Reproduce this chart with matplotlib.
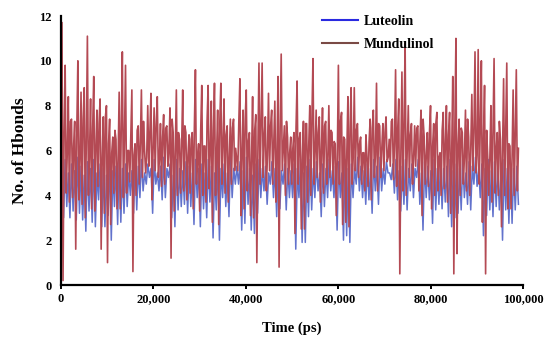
import numpy as np
import matplotlib
matplotlib.use("Agg")
import matplotlib.pyplot as plt
from matplotlib.ticker import FuncFormatter

# values, one row per ~17,000 ps stretch
mund_peaks = [
    11.7, 9.8, 8.4, 7.4, 7.3, 10.0, 8.6, 8.8, 11.1, 8.3, 9.3, 7.8, 8.3, 7.5, 8.0, 7.4, 6.6, 6.5, 8.6, 10.4, 9.8, 6.0,
    8.7, 6.3, 7.1, 8.7, 6.0, 8.0, 8.55, 7.9, 8.4, 7.2, 7.6, 7.1, 7.9, 6.8, 8.7, 6.5, 8.7, 6.8, 6.7, 6.8, 9.6, 6.3, 8.9, 6.2, 8.9,
    8.2, 9.0, 7.8, 9.0, 8.3, 7.1, 7.4, 7.4, 5.6, 9.2, 7.8, 8.7, 6.8, 8.4, 7.6, 9.9, 9.9, 7.5, 8.55, 7.8, 8.2, 9.3, 10.3, 7.1, 6.6,
    6.6, 6.8, 9.1, 6.8, 7.3, 7.2, 8.0, 10.1, 7.8, 7.5, 7.9, 7.3, 8.0, 6.8, 6.3, 9.8, 7.7, 6.5, 8.4, 8.8, 8.8, 7.2, 6.6, 5.9,
    5.7, 7.4, 7.8, 9.0, 7.1, 7.2, 7.5, 6.5, 7.4, 9.6, 8.3, 9.5, 10.8, 8.0, 7.2, 7.1, 7.1, 7.8, 6.6, 6.8, 8.0, 7.2, 7.7, 5.9, 7.7,
    8.0, 7.7, 9.3, 11.0, 7.4, 6.8, 7.8, 6.6, 8.5, 10.4, 10.5, 10.0, 8.9, 5.7, 8.0, 10.1, 6.8, 6.5, 9.2, 9.9, 6.2, 8.7, 9.6,
]
mund_troughs = [
    0.2, 4.1, 3.7, 3.9, 1.6, 3.8, 3.6, 3.0, 4.0, 3.4, 3.3, 4.4, 1.6, 3.2, 1.0, 2.7, 4.1, 3.4, 3.4, 3.9, 4.1, 4.6,
    0.6, 4.0, 4.5, 4.8, 5.0, 5.3, 3.8, 5.1, 4.8, 4.4, 4.5, 5.3, 1.2, 3.3, 4.0, 4.1, 4.2, 3.8, 4.1, 3.4, 4.5, 3.3, 4.0, 3.7, 4.3,
    2.8, 4.0, 2.7, 4.5, 4.1, 3.7, 4.5, 5.1, 5.1, 3.1, 3.4, 4.2, 3.1, 3.0, 1.0, 4.5, 4.8, 4.2, 5.1, 4.5, 3.7, 0.8, 5.1, 4.0, 4.5,
    4.5, 2.3, 4.5, 2.5, 2.5, 3.7, 4.0, 4.5, 4.8, 3.7, 4.1, 4.5, 4.8, 4.5, 3.1, 4.5, 2.7, 2.8, 2.6, 4.5, 5.1, 4.8, 4.5, 4.2,
    4.4, 3.8, 4.8, 4.2, 4.8, 5.1, 5.5, 5.3, 4.7, 4.4, 0.5, 4.2, 4.0, 4.8, 4.5, 5.3, 4.2, 3.1, 4.5, 4.4, 3.4, 4.0, 4.2, 4.0, 4.3,
    3.7, 3.2, 0.5, 1.4, 4.0, 4.5, 4.2, 4.0, 5.1, 5.0, 4.5, 2.8, 0.5, 4.0, 3.7, 4.1, 4.0, 2.6, 4.0, 3.4, 3.4, 4.0, 4.2,
]
# the smaller swings that fill the band between the spikes
mund_band = [
    6.8, 5.9, 7.3, 6.2, 6.9, 5.6, 7.4, 6.4, 5.8, 7.0, 6.1, 7.2, 5.7, 7.5, 6.3, 5.9, 6.9, 5.6, 7.1, 6.5, 6.0, 6.6,
    5.8, 6.9, 6.3, 7.3, 5.7, 6.8, 6.0, 7.2, 5.6, 6.6, 7.0, 6.1, 7.4, 5.9, 6.8, 6.2, 7.1, 5.8, 6.5, 7.0, 5.7, 6.9, 6.2, 7.3, 6.0,
    6.9, 5.8, 7.2, 6.3, 6.7, 5.7, 7.0, 6.1, 7.3, 5.9, 7.4, 6.4, 5.6, 6.9, 6.0, 7.2, 6.6, 5.8, 7.1, 6.3, 5.7, 7.0, 6.1, 7.3, 5.9,
    6.1, 7.0, 6.5, 5.7, 7.2, 6.2, 7.4, 5.9, 6.8, 6.0, 7.1, 5.6, 6.9, 6.4, 5.8, 7.3, 6.6, 6.0, 7.0, 5.7, 6.9, 6.3, 5.9, 6.7,
    6.4, 7.0, 5.8, 7.2, 6.1, 6.8, 5.7, 7.3, 6.3, 6.9, 5.9, 7.1, 6.0, 6.7, 5.6, 7.0, 6.4, 7.4, 5.8, 6.8, 6.2, 7.2, 5.7, 6.9, 6.3,
    6.7, 5.9, 7.2, 6.2, 7.0, 5.7, 7.4, 6.1, 6.8, 5.8, 7.1, 6.4, 6.9, 5.6, 6.8, 6.0, 7.3, 5.9, 7.0, 6.3, 5.7, 6.8, 6.1,
]
lut_peaks = [
    5.3, 5.6, 5.0, 5.4, 5.1, 5.7, 5.3, 4.9, 5.5, 5.2, 5.6, 5.0, 5.4, 5.2, 4.9, 5.6, 5.1, 5.3, 5.7, 5.2, 5.4, 5.0,
    5.1, 5.5, 5.3, 5.6, 5.0, 5.4, 5.2, 5.6, 5.0, 5.3, 5.7, 5.2, 5.4, 4.9, 5.6, 5.2, 5.1, 5.5, 5.3, 5.0, 5.6, 5.2, 5.4, 5.0, 5.6,
    5.3, 5.0, 5.6, 5.2, 5.4, 5.0, 5.7, 5.2, 5.3, 5.5, 5.1, 5.7, 5.2, 4.9, 5.4, 5.6, 5.2, 5.3, 5.0, 5.5, 5.2, 5.6, 5.1, 5.4, 5.2,
    5.1, 5.4, 5.2, 5.6, 5.0, 5.3, 5.6, 5.2, 5.5, 5.0, 5.4, 5.2, 5.6, 5.1, 5.3, 5.5, 5.0, 5.6, 5.2, 5.4, 5.2, 5.7, 5.3, 5.1,
    5.4, 5.2, 5.6, 5.3, 5.7, 5.2, 5.5, 5.0, 5.4, 5.6, 5.1, 5.3, 5.6, 5.2, 5.4, 5.2, 5.6, 5.0, 5.5, 5.3, 5.1, 5.6, 5.2, 5.4, 5.2,
    5.3, 5.6, 5.1, 5.4, 5.2, 5.6, 5.0, 5.5, 5.3, 5.7, 5.2, 5.4, 5.2, 5.6, 5.1, 5.5, 5.3, 5.0, 5.6, 5.2, 5.4, 5.2, 5.3,
]
lut_troughs = [
    3.0, 3.5, 3.0, 3.3, 2.9, 3.2, 2.9, 2.4, 3.3, 2.8, 2.6, 3.8, 2.6, 2.6, 3.1, 2.0, 3.5, 2.7, 2.8, 3.2, 3.5, 4.0,
    3.2, 3.35, 3.9, 4.2, 4.5, 4.8, 3.2, 4.5, 4.2, 3.8, 3.9, 4.8, 3.0, 2.6, 3.35, 3.5, 3.6, 3.2, 3.5, 2.7, 3.9, 2.6, 3.4, 3.0, 3.7,
    2.1, 3.35, 2.0, 3.9, 3.5, 3.05, 3.9, 4.5, 4.5, 2.45, 2.75, 3.6, 2.45, 2.3, 3.2, 3.9, 4.2, 3.6, 4.5, 3.9, 3.05, 3.4, 4.5, 3.35, 3.9,
    3.9, 1.6, 3.9, 1.9, 1.9, 3.05, 3.35, 3.9, 4.2, 3.05, 3.5, 3.9, 4.2, 3.9, 2.45, 3.9, 2.0, 2.2, 1.9, 3.9, 4.5, 4.2, 3.9, 3.6,
    3.8, 3.2, 4.2, 3.6, 4.2, 4.5, 5.0, 4.7, 4.1, 3.8, 3.3, 3.6, 3.35, 4.2, 3.9, 4.8, 3.6, 2.45, 3.9, 3.8, 2.75, 3.35, 3.6, 3.4, 3.7,
    3.05, 2.6, 3.0, 3.2, 3.35, 3.9, 3.6, 3.35, 4.5, 4.4, 3.9, 2.2, 3.1, 3.35, 3.05, 3.5, 3.35, 2.0, 3.35, 2.75, 2.75, 3.35, 3.6,
]
t_start, t_end = 200, 99000
x_ticks = [0, 20000, 40000, 60000, 80000, 100000]
y_ticks = [0, 2, 4, 6, 8, 10, 12]

mund = np.column_stack([mund_peaks, mund_troughs, mund_band]).ravel()
lut = np.column_stack([lut_peaks, lut_troughs]).ravel()
t_mund = np.linspace(t_start, t_end, len(mund))
t_lut = np.linspace(t_start, t_end, len(lut))

plt.rcParams["font.family"] = ["Liberation Serif", "DejaVu Serif"]
plt.rcParams["font.weight"] = "bold"

fig = plt.figure(figsize=(5.5, 3.48), dpi=100)
ax = fig.add_axes([0.111, 0.181, 0.840, 0.773])

ax.plot(t_lut, lut, color="#6272cc", lw=1.1, label="Luteolin")
ax.plot(t_mund, mund, color="#b44a54", lw=1.2, label="Mundulinol")

ax.set_xlim(0, 100000)
ax.set_ylim(0, 12)
ax.set_xticks(x_ticks)
ax.set_yticks(y_ticks)
ax.xaxis.set_major_formatter(FuncFormatter(lambda v, p: "{:,}".format(int(v))))
for s in ("top", "right"):
    ax.spines[s].set_visible(False)
for s in ("left", "bottom"):
    ax.spines[s].set_linewidth(1.6)
ax.tick_params(axis="x", length=3, width=1.4, pad=3, labelsize=9)
ax.tick_params(axis="y", length=0, pad=7, labelsize=9)

ax.set_xlabel("Time (ps)", fontsize=10.5, fontweight="bold", labelpad=12)
ax.set_ylabel("No. of Hbonds", fontsize=12.5, fontweight="bold", labelpad=8)

leg = fig.legend(loc="upper left", bbox_to_anchor=(0.585, 0.958), frameon=False,
                 fontsize=10, handlelength=2.6, handletextpad=0.45,
                 labelspacing=0.75, borderpad=0, borderaxespad=0)
leg.get_lines()[0].set_color("#2a2ae0")
leg.get_lines()[1].set_color("#7a4a45")
for ln in leg.get_lines():
    ln.set_linewidth(1.5)

fig.savefig("out.png", dpi=100)
